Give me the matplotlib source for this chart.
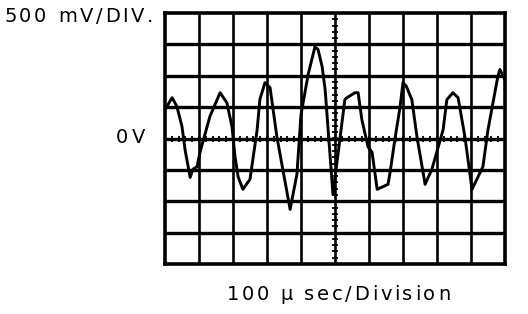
import numpy as np
import matplotlib
matplotlib.use('Agg')
import matplotlib.pyplot as plt
from matplotlib.font_manager import FontProperties

# scope trace: time in usec, voltage in V
time_us = [0, 21, 35, 50, 59, 74, 82, 94, 103, 132, 162, 182, 197, 206, 215,
           229, 250, 271, 279, 294, 309, 329, 368, 388, 400, 421, 441, 450,
           462, 471, 494, 529, 535, 559, 568, 579, 597, 609, 624, 656, 662,
           676, 691, 700, 709, 726, 741, 765, 785, 818, 829, 847, 862, 882,
           903, 935, 950, 979, 985, 1000]
volts = [0.46, 0.65, 0.51, 0.19, -0.18, -0.62, -0.49, -0.45, -0.22, 0.35,
         0.73, 0.57, 0.19, -0.29, -0.61, -0.81, -0.65, 0.14, 0.62, 0.89,
         0.81, 0.03, -1.13, -0.57, 0.38, 1.02, 1.46, 1.42, 1.15, 0.78,
         -0.89, 0.62, 0.65, 0.73, 0.73, 0.30, -0.13, -0.22, -0.81, -0.73,
         -0.54, -0.02, 0.49, 0.89, 0.84, 0.62, 0.03, -0.73, -0.49, 0.14,
         0.62, 0.73, 0.65, 0.03, -0.81, -0.45, 0.14, 0.99, 1.10, 0.94]

volt_label = "500 mV/DIV."
zero_label = "0 V"
time_label = "100 \u03bc sec/Division"

W, H = 528, 314
fig = plt.figure(figsize=(W / 100, H / 100), dpi=100)
ax = fig.add_axes([165 / W, 1 - 264 / H, 340 / W, 251 / H])

ax.set_xlim(0, 1000)
ax.set_ylim(-2, 2)
for x in np.arange(100, 1000, 100):
    ax.axvline(x, color='k', lw=1.9, zorder=1)
for y in np.arange(-1.5, 2, 0.5):
    ax.axhline(y, color='k', lw=2.4, zorder=1)
for s in ax.spines.values():
    s.set_linewidth(2.6)

# small graticule ticks on the centre lines
ax.plot(np.arange(0, 1001, 20), np.zeros(51), ls='none', marker='|',
        ms=5, mew=1.3, color='k')
ax.plot(np.full(41, 500), np.arange(-2, 2.01, 0.1), ls='none', marker='_',
        ms=5, mew=1.3, color='k')

ax.plot(time_us, volts, color='k', lw=2.1, zorder=3)
ax.set_xticks([])
ax.set_yticks([])


def tracked_text(x0, x1, y, s, size, space=0.318):
    # spread the characters of s evenly from x0 to x1 (pixels, from top-left)
    r = fig.canvas.get_renderer()
    prop = FontProperties(family='DejaVu Sans', size=size)
    widths = []
    for ch in s:
        if ch == ' ':
            widths.append(space * size * 100 / 72)
        else:
            widths.append(r.get_text_width_height_descent(ch, prop, ismath=False)[0])
    track = (x1 - x0 - sum(widths)) / (len(s) - 1)
    x = x0
    for ch, w in zip(s, widths):
        if ch != ' ':
            fig.text(x / W, 1 - y / H, ch, fontproperties=prop,
                     ha='left', va='baseline')
        x += w + track


tracked_text(4, 153, 22, volt_label, 14)
tracked_text(116, 145, 143, zero_label, 14, space=0.15)
tracked_text(227, 450, 300, time_label, 14)

fig.savefig('out.png', dpi=100)
